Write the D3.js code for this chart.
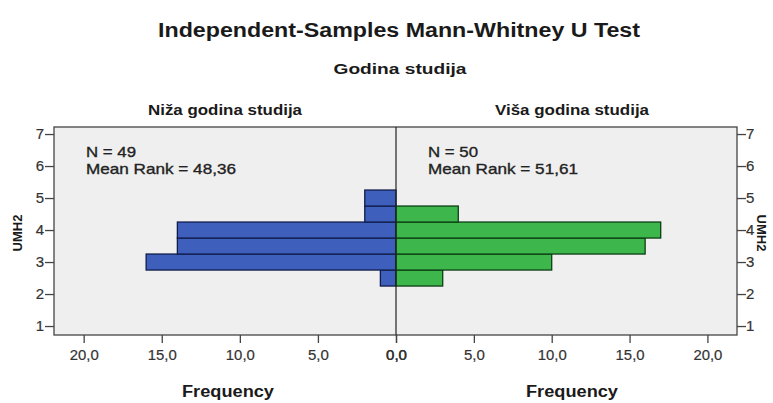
<!DOCTYPE html>
<html><head><meta charset="utf-8">
<script src="https://cdn.jsdelivr.net/npm/d3@7"></script>
<style>body{margin:0;background:#fff}svg{display:block}text{font-family:"Liberation Sans",Arial,sans-serif}</style>
</head><body><svg id="c" width="773" height="403"></svg>
<script>
const title = "Independent-Samples Mann-Whitney U Test";
const groupVar = "Godina studija";
const groups = ["Niža godina studija", "Viša godina studija"];
const groupN = [49, 50];
const meanRanks = ["48,36", "51,61"];
const binCenters = [2.5, 3, 3.5, 4, 4.5, 5];
const lowerFreq = [1, 16, 14, 14, 2, 2];
const upperFreq = [3, 10, 16, 17, 4, 0];
const xTicks = [0, 5, 10, 15, 20];
const yTicks = [1, 2, 3, 4, 5, 6, 7];
const yLabel = "UMH2";
const xLabel = "Frequency";
const binWidth = 0.5;

const svg = d3.select("#c");
const L = 54, R = 737, T = 127, B = 335, C = 396;
const xMax = 21.9;
const xL = d3.scaleLinear().domain([xMax, 0]).range([L, C]);
const xR = d3.scaleLinear().domain([0, xMax]).range([C, R]);
const y = d3.scaleLinear().domain([0.72, 7.22]).range([B, T]);
const fmt = v => d3.format(".1f")(v).replace(".", ",");

// titles
svg.append("text").attr("x", 399).attr("y", 37).attr("text-anchor", "middle")
  .attr("font-size", 20).attr("font-weight", "bold").attr("fill", "#1a1a1a")
  .attr("textLength", 482).attr("lengthAdjust", "spacingAndGlyphs").text(title);
svg.append("text").attr("x", 400).attr("y", 74).attr("text-anchor", "middle")
  .attr("font-size", 15).attr("font-weight", "bold").attr("fill", "#1a1a1a")
  .attr("textLength", 133).attr("lengthAdjust", "spacingAndGlyphs").text(groupVar);
[[225, groups[0]], [572, groups[1]]].forEach(([cx, t]) => {
  svg.append("text").attr("x", cx).attr("y", 115).attr("text-anchor", "middle")
    .attr("font-size", 15).attr("font-weight", "bold").attr("fill", "#1a1a1a")
    .attr("textLength", 154).attr("lengthAdjust", "spacingAndGlyphs").text(t);
});

// plot background
svg.append("rect").attr("x", L).attr("y", T).attr("width", R - L).attr("height", B - T)
  .attr("fill", "#efefef");

// bars
const bh = y(0) - y(binWidth);
svg.append("g").selectAll("rect").data(binCenters.map((c, i) => ({c, v: lowerFreq[i]})).filter(d => d.v > 0))
  .join("rect")
  .attr("x", d => xL(d.v)).attr("width", d => C - xL(d.v))
  .attr("y", d => y(d.c + binWidth / 2)).attr("height", bh)
  .attr("fill", "#3f5fbd").attr("stroke", "#101c4a").attr("stroke-width", 1.3);
svg.append("g").selectAll("rect").data(binCenters.map((c, i) => ({c, v: upperFreq[i]})).filter(d => d.v > 0))
  .join("rect")
  .attr("x", C).attr("width", d => xR(d.v) - C)
  .attr("y", d => y(d.c + binWidth / 2)).attr("height", bh)
  .attr("fill", "#3db64c").attr("stroke", "#0c3f14").attr("stroke-width", 1.3);

// frame and center line
svg.append("rect").attr("x", L).attr("y", T).attr("width", R - L).attr("height", B - T)
  .attr("fill", "none").attr("stroke", "#444").attr("stroke-width", 1.3);
svg.append("line").attr("x1", C).attr("x2", C).attr("y1", T).attr("y2", B)
  .attr("stroke", "#222").attr("stroke-width", 1.2);

// axes
function styleAxis(g) {
  g.select(".domain").remove();
  g.selectAll(".tick line").attr("stroke", "#444").attr("stroke-width", 1.3);
  g.selectAll(".tick text").attr("fill", "#333").style("font-size", "15px")
    .attr("stroke", "#333").attr("stroke-width", 0.2);
}
svg.append("g").attr("transform", `translate(0,${B})`)
  .call(d3.axisBottom(xL).tickValues(xTicks).tickFormat(fmt).tickSize(8).tickPadding(6)).call(styleAxis);
svg.append("g").attr("transform", `translate(0,${B})`)
  .call(d3.axisBottom(xR).tickValues(xTicks).tickFormat(fmt).tickSize(8).tickPadding(6)).call(styleAxis);
svg.append("g").attr("transform", `translate(${L},0)`)
  .call(d3.axisLeft(y).tickValues(yTicks).tickFormat(d3.format("d")).tickSize(9).tickPadding(1)).call(styleAxis);
svg.append("g").attr("transform", `translate(${R},0)`)
  .call(d3.axisRight(y).tickValues(yTicks).tickFormat(d3.format("d")).tickSize(9).tickPadding(0)).call(styleAxis);
svg.selectAll(".tick text").each(function(){
  if (this.textContent.length === 4) d3.select(this).attr("textLength", 29).attr("lengthAdjust", "spacingAndGlyphs");
});

// axis labels
svg.append("text").attr("transform", `translate(22,${(T + B) / 2 + 2}) rotate(-90)`)
  .attr("text-anchor", "middle").attr("font-size", 13).attr("font-weight", "bold").attr("fill", "#1a1a1a").text(yLabel);
svg.append("text").attr("transform", `translate(757,${(T + B) / 2 + 2}) rotate(90)`)
  .attr("text-anchor", "middle").attr("font-size", 13).attr("font-weight", "bold").attr("fill", "#1a1a1a").text(yLabel);
[228, 572].forEach(cx => {
  svg.append("text").attr("x", cx).attr("y", 397).attr("text-anchor", "middle")
    .attr("font-size", 16).attr("font-weight", "bold").attr("fill", "#1a1a1a")
    .attr("textLength", 92).attr("lengthAdjust", "spacingAndGlyphs").text(xLabel);
});

// stats text
[[86, 0], [428, 1]].forEach(([x0, i]) => {
  svg.append("text").attr("x", x0).attr("y", 157).attr("font-size", 15).attr("fill", "#222")
    .attr("stroke", "#222").attr("stroke-width", 0.35)
    .attr("textLength", 50).attr("lengthAdjust", "spacingAndGlyphs")
    .text(`N = ${groupN[i]}`);
  svg.append("text").attr("x", x0).attr("y", 174).attr("font-size", 15).attr("fill", "#222")
    .attr("stroke", "#222").attr("stroke-width", 0.35)
    .attr("textLength", 150).attr("lengthAdjust", "spacingAndGlyphs")
    .text(`Mean Rank = ${meanRanks[i]}`);
});
</script></body></html>
